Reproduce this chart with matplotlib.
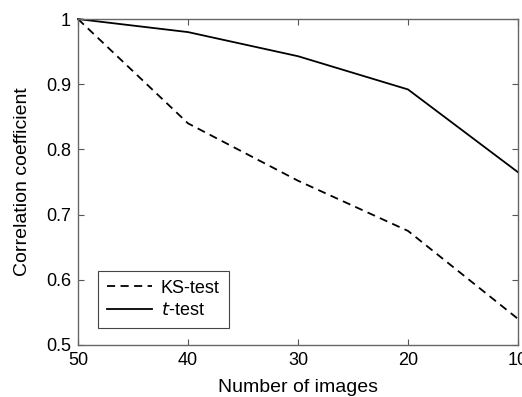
import matplotlib
matplotlib.use("Agg")
import matplotlib.pyplot as plt

plt.rcParams['font.family'] = ['Liberation Sans', 'DejaVu Sans']

n_images = [50, 40, 30, 20, 10]
ks_test = [1.0, 0.840, 0.752, 0.675, 0.540]
t_test = [1.0, 0.980, 0.943, 0.892, 0.765]
yticks = [0.5, 0.6, 0.7, 0.8, 0.9, 1.0]
ytick_labels = ['0.5', '0.6', '0.7', '0.8', '0.9', '1']
xticks = [50, 40, 30, 20, 10]

fig = plt.figure(figsize=(5.22, 3.97), dpi=100)
ax = fig.add_axes([0.1494, 0.131, 0.843, 0.821])
ax.plot(n_images, ks_test, color='black', linestyle=(0, (4.5, 3)), linewidth=1.3, label='KS-test', clip_on=False)
ax.plot(n_images, t_test, color='black', linestyle='-', linewidth=1.3, label='$t$-test', clip_on=False)
ax.set_xlim(50, 10)
ax.set_ylim(0.5, 1.0)
ax.set_xticks(xticks)
ax.set_xticklabels([str(v) for v in xticks])
ax.set_yticks(yticks)
ax.set_yticklabels(ytick_labels)
ax.tick_params(direction='in', top=True, right=True, length=4, width=0.8, color='#555555', labelsize=13, pad=5)
for s in ax.spines.values():
    s.set_color('#666666')
    s.set_linewidth(1.0)
ax.set_xlabel('Number of images', fontsize=14, labelpad=7)
ax.set_ylabel('Correlation coefficient', fontsize=14, labelpad=11)
leg = ax.legend(loc='lower left', bbox_to_anchor=(0.045, 0.052), borderaxespad=0, fontsize=13, fancybox=False,
                edgecolor='#444444', framealpha=1, handlelength=2.5, handletextpad=0.5,
                borderpad=0.5, labelspacing=0.3)
leg.get_frame().set_linewidth(0.8)
fig.savefig('out.png', dpi=100)
